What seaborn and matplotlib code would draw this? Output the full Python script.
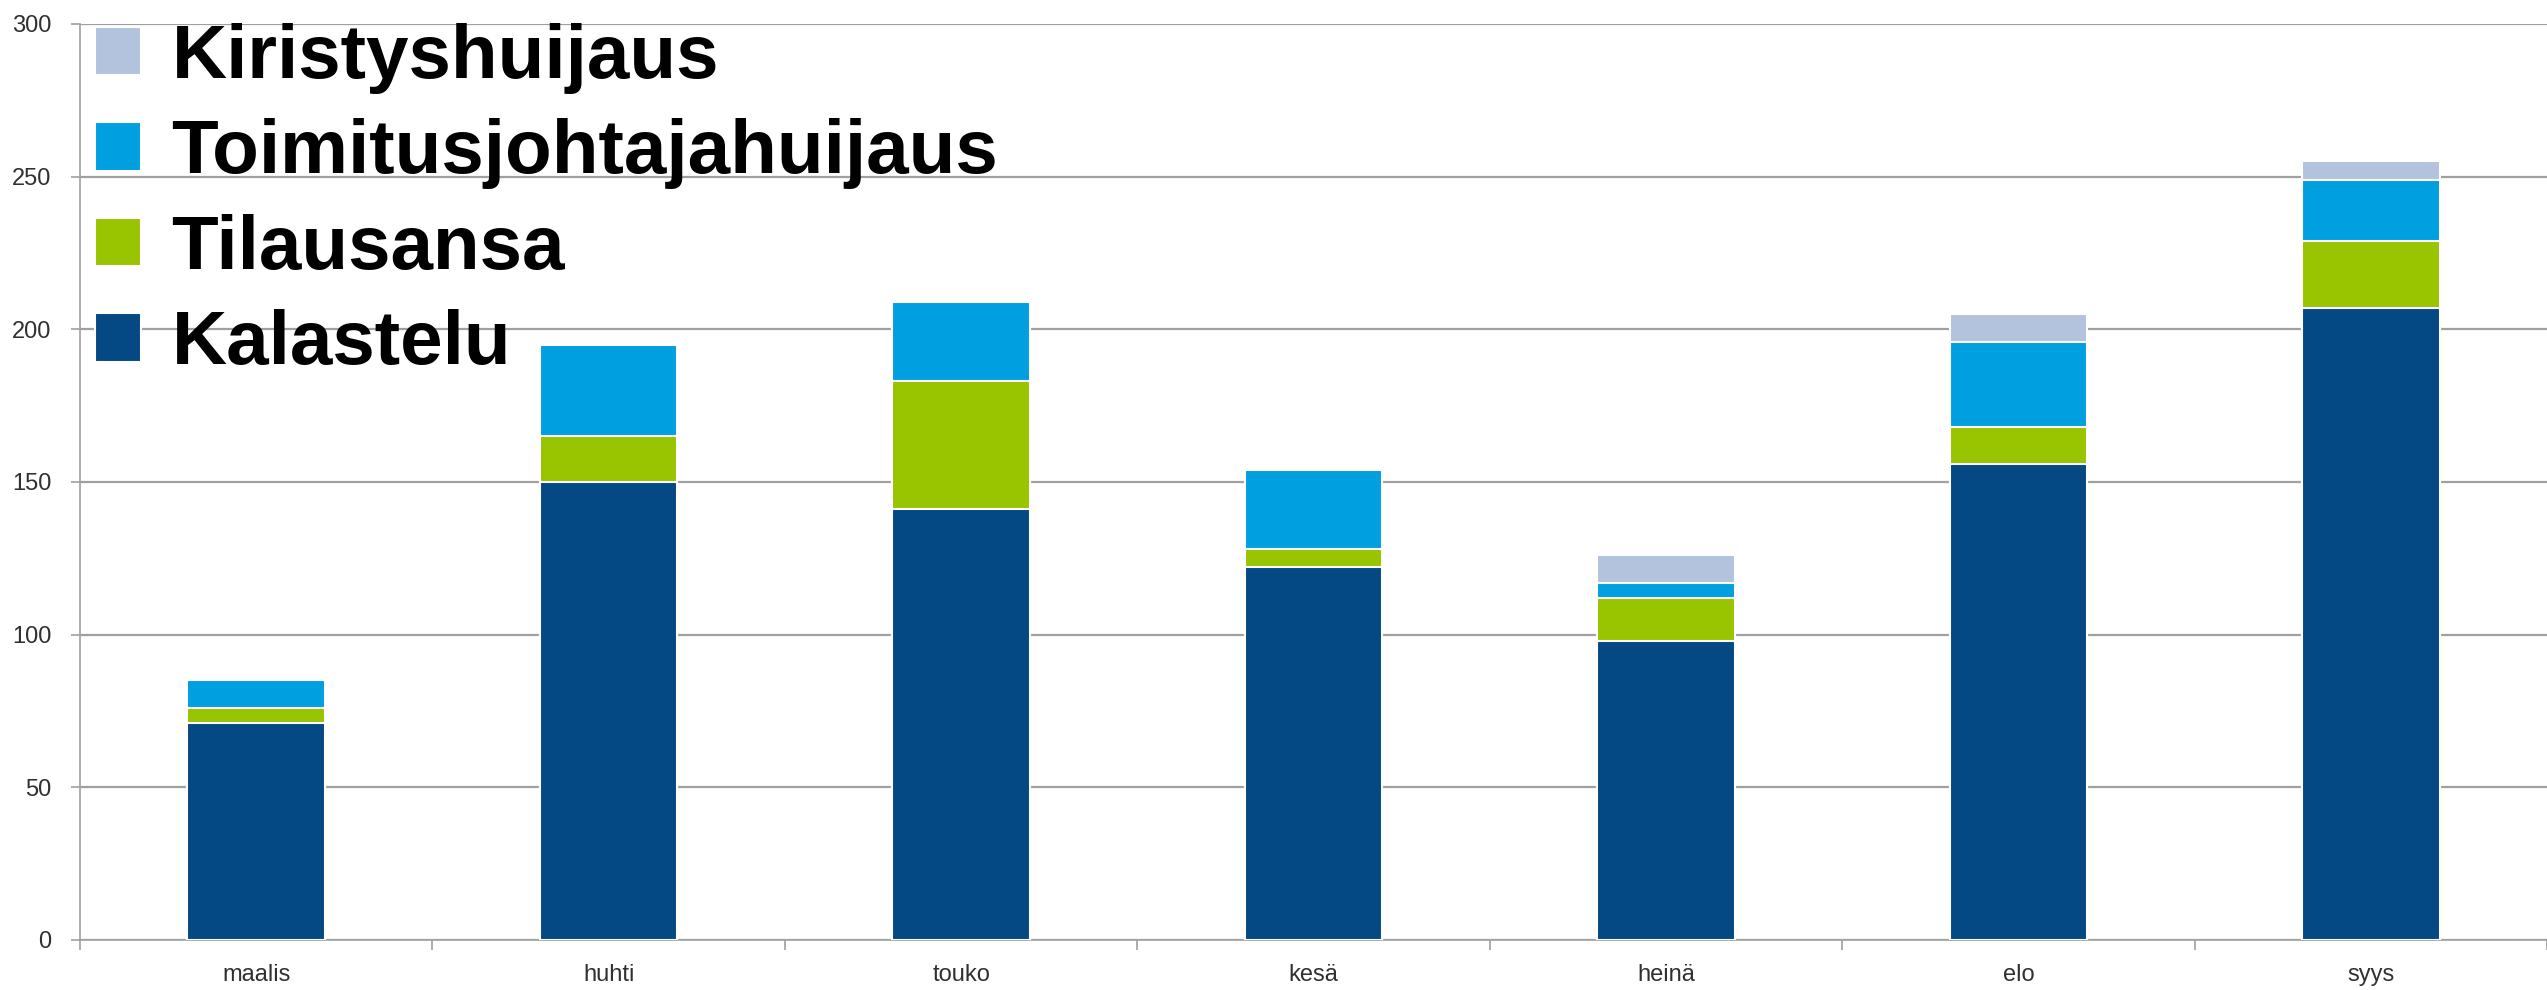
import matplotlib
matplotlib.use("Agg")
import matplotlib.pyplot as plt
from matplotlib.patches import Patch
import seaborn as sns
import pandas as pd
import numpy as np

months = ["maalis", "huhti", "touko", "kesä", "heinä", "elo", "syys"]
kalastelu = [71, 150, 141, 122, 98, 156, 207]
tilausansa = [5, 15, 42, 6, 14, 12, 22]
toimitusjohtajahuijaus = [9, 30, 26, 26, 5, 28, 20]
kiristyshuijaus = [0, 0, 0, 0, 9, 9, 6]

series_names = ["Kalastelu", "Tilausansa", "Toimitusjohtajahuijaus", "Kiristyshuijaus"]
series_vals = [kalastelu, tilausansa, toimitusjohtajahuijaus, kiristyshuijaus]
colors = {"Kalastelu": "#044884", "Tilausansa": "#99C400",
          "Toimitusjohtajahuijaus": "#009FDF", "Kiristyshuijaus": "#B3C3DE"}

sns.set_theme(style="white")
plt.rcParams["font.family"] = ["Liberation Sans", "DejaVu Sans"]

fig = plt.figure(figsize=(25.47, 9.9), dpi=100)
ax = fig.add_axes([80 / 2547, 1 - 940 / 990, 1 - 80 / 2547, (940 - 24) / 990])

cum = np.cumsum(np.array(series_vals), axis=0)
# draw from the topmost cumulative total down so lower segments cover upper ones
for i in range(len(series_names) - 1, -1, -1):
    df = pd.DataFrame({"month": months, "value": cum[i]})
    sns.barplot(data=df, x="month", y="value", color=colors[series_names[i]],
                width=0.39, edgecolor="white", linewidth=1.5, saturation=1,
                ax=ax, zorder=3)

ax.set_ylim(0, 300)
ax.set_xlim(-0.5, len(months) - 0.5)
ax.set_yticks(range(0, 301, 50))
ax.yaxis.grid(True, color="#A0A0A0", linewidth=1.6)
ax.set_axisbelow(True)
ax.set_xlabel("")
ax.set_ylabel("")

for side in ["top", "right"]:
    ax.spines[side].set_visible(False)
for side in ["left", "bottom"]:
    ax.spines[side].set_color("#A0A0A0")
    ax.spines[side].set_linewidth(1.2)

ax.tick_params(axis="y", which="both", left=True, length=6.5, width=1.2,
               color="#A0A0A0", labelsize=17, labelcolor="#303030", pad=14)
ax.set_xticks(np.arange(len(months)))
ax.set_xticklabels(months)
ax.set_xticks(np.arange(len(months) + 1) - 0.5, minor=True)
ax.tick_params(axis="x", which="major", bottom=False, length=0, labelsize=17,
               labelcolor="#303030", pad=17)
ax.tick_params(axis="x", which="minor", bottom=True, length=7, width=1.2,
               color="#A0A0A0")

handles = [Patch(facecolor=colors[n], edgecolor="white", linewidth=1.5)
           for n in reversed(series_names)]
leg = ax.legend(handles, list(reversed(series_names)), loc="upper left",
                bbox_to_anchor=(95 / 2547, 1 - 23 / 990),
                bbox_transform=fig.transFigure, frameon=False,
                prop={"weight": "bold", "size": 55},
                handlelength=0.6, handleheight=0.6, handletextpad=0.4,
                labelspacing=0.32, borderpad=0, borderaxespad=0)
for t in leg.get_texts():
    t.set_color("black")

fig.savefig("out.png", dpi=100)
